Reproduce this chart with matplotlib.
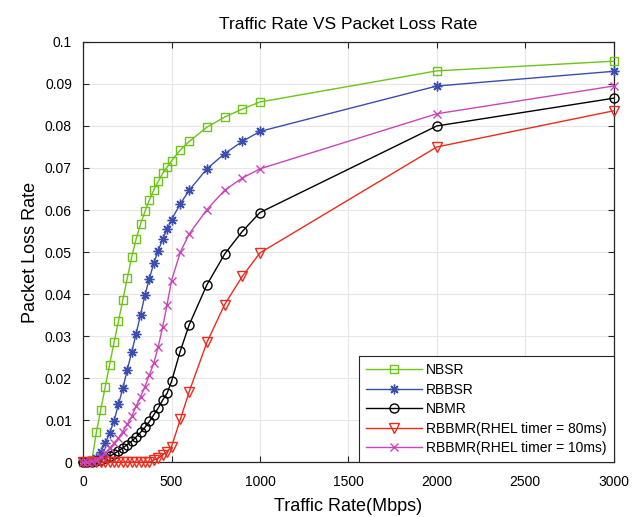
#!/usr/bin/env python3
"""Traffic rate vs packet loss rate for the five buffering schemes."""

import matplotlib
matplotlib.use("Agg")
import matplotlib.pyplot as plt

plt.rcParams["font.family"] = ["Liberation Sans", "DejaVu Sans"]

# Offered traffic (Mbps) sampled every 25 up to 500, then coarser
rate = [0, 25, 50, 75, 100, 125, 150, 175, 200, 225, 250, 275, 300, 325, 350,
        375, 400, 425, 450, 475, 500, 550, 600, 700, 800, 900, 1000, 2000, 3000]

nbsr = [0, 0, 0.0005, 0.0071, 0.0125, 0.0179, 0.0232, 0.0285, 0.0335, 0.0387,
        0.0438, 0.0488, 0.0531, 0.0567, 0.0597, 0.0624, 0.0648, 0.0668, 0.0687,
        0.0702, 0.0717, 0.0743, 0.0763, 0.0797, 0.0821, 0.0840, 0.0857, 0.0931, 0.0954]
rbbsr = [0, 0, 0.0003, 0.0010, 0.0025, 0.0045, 0.0069, 0.0098, 0.0138, 0.0176,
         0.0220, 0.0262, 0.0306, 0.0351, 0.0398, 0.0437, 0.0474, 0.0503, 0.0531,
         0.0554, 0.0577, 0.0615, 0.0647, 0.0698, 0.0734, 0.0763, 0.0787, 0.0895, 0.0930]
nbmr = [0, 0, 0, 0.0002, 0.0005, 0.0009, 0.0014, 0.0020, 0.0027, 0.0034,
        0.0042, 0.0050, 0.0060, 0.0071, 0.0083, 0.0097, 0.0113, 0.0129, 0.0148,
        0.0164, 0.0192, 0.0265, 0.0327, 0.0422, 0.0495, 0.0549, 0.0594, 0.0800, 0.0866]
rbbmr_80 = [0, 0, 0, 0, 0, 0, 0, 0, 0, 0, 0, 0, 0, 0, 0, 0, 0.0005, 0.0010,
            0.0017, 0.0025, 0.0037, 0.0102, 0.0168, 0.0285, 0.0375, 0.0442,
            0.0498, 0.0750, 0.0836]
rbbmr_10 = [0, 0, 0.0002, 0.0006, 0.0013, 0.0022, 0.0033, 0.0045, 0.0057, 0.0073,
            0.0090, 0.0109, 0.0133, 0.0156, 0.0180, 0.0208, 0.0236, 0.0275, 0.0322,
            0.0375, 0.0432, 0.0500, 0.0543, 0.0601, 0.0647, 0.0676, 0.0698, 0.0829, 0.0895]

labels = ["NBSR", "RBBSR", "NBMR", "RBBMR(RHEL timer = 80ms)", "RBBMR(RHEL timer = 10ms)"]

# series -> (color, marker, size)
styles = [
    (nbsr, "#6cc417", "s", 5.5),
    (rbbsr, "#3a4db0", (8, 2, 0), 7),
    (nbmr, "#000000", "o", 6.5),
    (rbbmr_80, "#ee2a1b", "v", 7.5),
    (rbbmr_10, "#cc44bb", "x", 5.5),
]

fig = plt.figure(figsize=(6.44, 5.17), dpi=100)
ax = fig.add_axes([0.129, 0.106, 0.824, 0.813])

for (vals, color, marker, ms), label in zip(styles, labels):
    ax.plot(rate, vals, color=color, marker=marker, markersize=ms,
            markerfacecolor="none", markeredgecolor=color, markeredgewidth=1.0,
            linewidth=1.0, label=label, clip_on=False, zorder=3)

ax.set_xlim(0, 3000)
ax.set_ylim(0, 0.1)
ax.set_xticks([0, 500, 1000, 1500, 2000, 2500, 3000])
ax.set_yticks([0, 0.01, 0.02, 0.03, 0.04, 0.05, 0.06, 0.07, 0.08, 0.09, 0.1])
ax.set_yticklabels(["0", "0.01", "0.02", "0.03", "0.04", "0.05", "0.06",
                    "0.07", "0.08", "0.09", "0.1"])
ax.tick_params(direction="in", top=True, right=True, labelsize=10, length=4,
               width=0.8, color="#262626")
ax.tick_params(axis="y", pad=8)
ax.tick_params(axis="x", pad=9)
ax.grid(True, color="#e6e6e6", linewidth=0.8)
ax.set_axisbelow(True)
for sp in ax.spines.values():
    sp.set_color("#262626")
    sp.set_linewidth(0.9)

ax.set_title("Traffic Rate VS Packet Loss Rate", fontsize=12.5, pad=9)
ax.set_xlabel("Traffic Rate(Mbps)", fontsize=13, labelpad=7)
ax.set_ylabel("Packet Loss Rate", fontsize=13, labelpad=4)

leg = ax.legend(loc="lower right", fontsize=10, handlelength=4.0, numpoints=1,
                borderaxespad=0.0, fancybox=False, framealpha=1,
                labelspacing=0.4, handletextpad=0.3, borderpad=0.5)
leg.get_frame().set_edgecolor("#262626")
leg.get_frame().set_linewidth(0.8)

fig.savefig("out.png", dpi=100)
